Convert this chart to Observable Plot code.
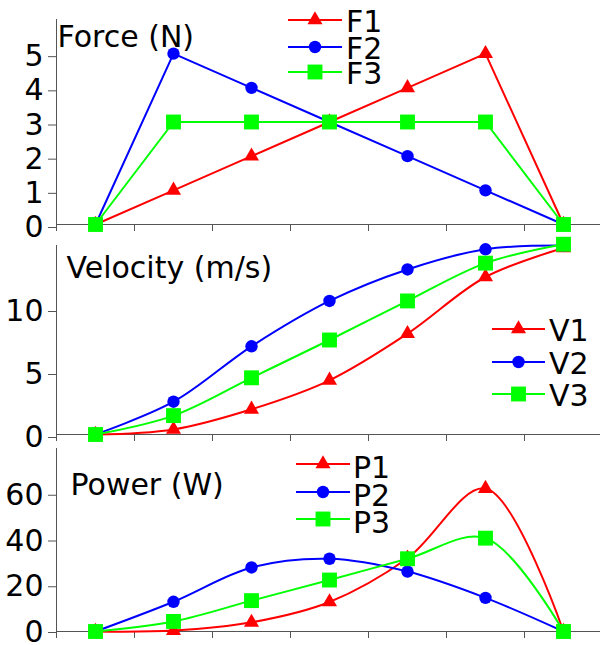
<!DOCTYPE html>
<html><head><meta charset="utf-8">
<script src="https://cdn.jsdelivr.net/npm/d3@7"></script>
<script src="https://cdn.jsdelivr.net/npm/@observablehq/plot@0.6"></script>
<style>
body{margin:0;background:#fff;font-family:"DejaVu Sans",sans-serif;}
#root{position:relative;width:600px;height:645px;overflow:hidden;background:#fff;}
#root svg{position:absolute;left:0;}
</style></head><body><div id="root"></div>
<script>
// ---- data ----
const steps = [0, 1, 2, 3, 4, 5, 6];

const forceNames = ["F1", "F2", "F3"];
const F1 = [0, 1, 2, 3, 4, 5, 0];
const F2 = [0, 5, 4, 3, 2, 1, 0];
const F3 = [0, 3, 3, 3, 3, 3, 0];

const velocityNames = ["V1", "V2", "V3"];
const V1 = [0, 0.4, 2.0, 4.3, 8.0, 12.5, 14.8];
const V2 = [0, 2.6, 7.0, 10.6, 13.1, 14.7, 15.0];
const V3 = [0, 1.5, 4.5, 7.5, 10.6, 13.6, 15.1];

const powerNames = ["P1", "P2", "P3"];
const P1 = [0, 0.4, 4.0, 12.9, 32.0, 62.5, 0];
const P2 = [0, 13.0, 28.0, 31.8, 26.2, 14.7, 0];
const P3 = [0, 4.4, 13.5, 22.5, 31.8, 40.8, 0];

const forceTicks = [0, 1, 2, 3, 4, 5];
const velocityTicks = [0, 5, 10];
const powerTicks = [0, 20, 40, 60];

const titles = ["Force (N)", "Velocity (m/s)", "Power (W)"];

// ---- styles ----
const colors = ["#ff0000", "#0000ff", "#00ff00"];
const symbols = ["triangle", "circle", "square"];
const radii = [5.6, 6.2, 8.4];
const FONT = 30;
const root = document.getElementById("root");

function panel({names, series, yDomain, yTicks, title, top, height, marginTop, marginBottom, curve, titleDx, titleDy, labelDy}) {
  const marks = [
    Plot.ruleX([0], {stroke: "#555"}),
    Plot.ruleY([0], {stroke: "#555"}),
    Plot.axisY({ticks: yTicks, tickFormat: d3.format("d"), tickSize: 8, tickPadding: 5, fontSize: FONT, stroke: "#555", fill: "#000", label: null, dy: labelDy}),
    Plot.axisX({ticks: 7, tickSize: 7, tickFormat: () => "", stroke: "#555", label: null})
  ];
  const rows = names.map((n, k) => series[k].map((v, i) => ({name: n, step: steps[i], value: v})));
  rows.forEach((r, k) => marks.push(Plot.line(r, {x: d => d.step + 0.5, y: "value", stroke: colors[k], strokeWidth: 2, curve})));
  rows.forEach((r, k) => marks.push(Plot.dot(r, {x: d => d.step + 0.5, y: "value", symbol: () => symbols[k], r: radii[k], fill: colors[k], stroke: "none"})));
  marks.push(Plot.text([title], {frameAnchor: "top-left", textAnchor: "start", lineAnchor: "middle", dx: titleDx, dy: titleDy, fontSize: FONT, fill: "#000"}));
  const svg = Plot.plot({
    width: 600, height, marginTop, marginBottom, marginLeft: 56, marginRight: 0,
    style: {background: "transparent", overflow: "visible", fontFamily: "DejaVu Sans"},
    x: {domain: [0, 7], range: [56, 602]},
    y: {domain: yDomain},
    symbol: {type: "identity"},
    marks
  });
  svg.style.top = top + "px";
  root.appendChild(svg);
}

panel({names: forceNames, series: [F1, F2, F3], yDomain: [0, 6], yTicks: forceTicks, title: titles[0],
  top: 0, height: 234, marginTop: 19, marginBottom: 10, curve: "linear", titleDx: 1, titleDy: 18, labelDy: 3});
panel({names: velocityNames, series: [V1, V2, V3], yDomain: [0, 15], yTicks: velocityTicks, title: titles[1],
  top: 234, height: 210, marginTop: 11, marginBottom: 10, curve: "catmull-rom", titleDx: 10, titleDy: 23, labelDy: 3});
panel({names: powerNames, series: [P1, P2, P3], yDomain: [0, 80], yTicks: powerTicks, title: titles[2],
  top: 444, height: 201, marginTop: 4, marginBottom: 14, curve: "catmull-rom", titleDx: 14, titleDy: 37, labelDy: 1});

// ---- legends (overlay) ----
const overlay = d3.select(root).append("svg")
  .attr("width", 600).attr("height", 645).style("top", "0px").style("pointer-events", "none")
  .style("font-family", "DejaVu Sans");
const symMap = {triangle: d3.symbolTriangle, circle: d3.symbolCircle, square: d3.symbolSquare};
function legend(names, x0, x1, textX, ys, baseOff) {
  names.forEach((n, k) => {
    const g = overlay.append("g");
    const y = ys[k];
    g.append("line").attr("x1", x0).attr("x2", x1).attr("y1", y).attr("y2", y)
      .attr("stroke", colors[k]).attr("stroke-width", 2);
    g.append("path").attr("transform", `translate(${(x0 + x1) / 2},${y})`)
      .attr("d", d3.symbol(symMap[symbols[k]], Math.PI * radii[k] * radii[k])())
      .attr("fill", colors[k]);
    g.append("text").attr("x", textX).attr("y", y + baseOff).attr("font-size", FONT).attr("fill", "#000").text(n);
  });
}
legend(forceNames, 288, 342, 346, [20, 47, 72], 12);
legend(velocityNames, 492, 545, 549, [329, 362, 394], 12);
legend(powerNames, 296, 350, 353, [464, 492, 519], 14);
</script></body></html>
